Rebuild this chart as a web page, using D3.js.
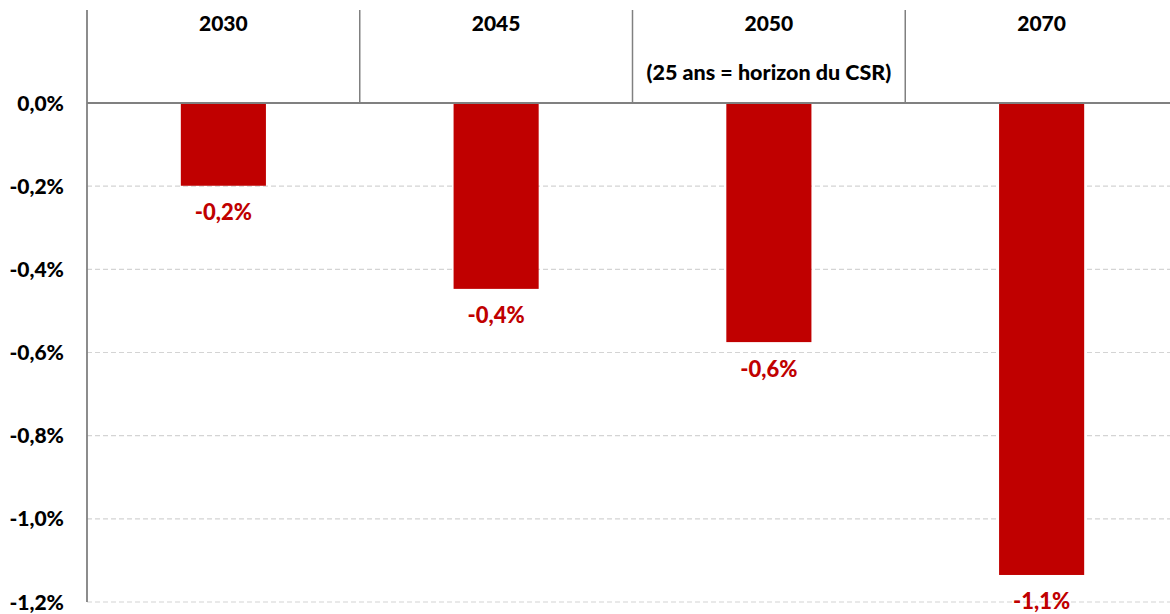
<!DOCTYPE html>
<html><head><meta charset="utf-8">
<script src="https://cdn.jsdelivr.net/npm/d3@7"></script>
<style>body{margin:0;background:#fff}svg{display:block}text{font-family:Lato,"Open Sans",sans-serif;font-weight:900}</style>
</head><body><svg id="c" width="1170" height="614"></svg>
<script>
const categories = ["2030","2045","2050","2070"];
const subtitles = ["","","(25 ans = horizon du CSR)",""];
const values = [-0.199, -0.447, -0.575, -1.135];
const valueLabels = ["-0,2%","-0,4%","-0,6%","-1,1%"];
const yTicks = [0,-0.2,-0.4,-0.6,-0.8,-1.0,-1.2];
const yTickLabels = ["0,0%","-0,2%","-0,4%","-0,6%","-0,8%","-1,0%","-1,2%"];

(function(){
const svg = d3.select("#c");
const mLeft = 87, mRight = 1178, zeroY = 103, mBottom = 602, mTop = 10;
const x = d3.scaleBand().domain(categories).range([mLeft, mRight]).padding(0);
const y = d3.scaleLinear().domain([0,-1.2]).range([zeroY, mBottom]);
const red = "#C00000";

svg.append("g").selectAll("line").data(yTicks.slice(1)).join("line")
  .attr("x1", mLeft).attr("x2", 1170).attr("y1", d=>y(d)).attr("y2", d=>y(d))
  .attr("stroke","#d4d4d4").attr("stroke-width",1.2).attr("stroke-dasharray","5,3");

const bw = x.bandwidth()*0.312;
svg.append("g").selectAll("rect").data(values).join("rect")
  .attr("x",(d,i)=>x(categories[i])+x.bandwidth()/2-bw/2)
  .attr("width",bw)
  .attr("y",y(0)).attr("height",d=>y(d)-y(0))
  .attr("fill",red);

svg.append("g").selectAll("text").data(values).join("text")
  .attr("x",(d,i)=>x(categories[i])+x.bandwidth()/2)
  .attr("y",d=>y(d)+34.5)
  .attr("text-anchor","middle").attr("fill",red).attr("font-size",22)
  .text((d,i)=>valueLabels[i]);

svg.append("g").selectAll("line").data(categories.slice(1)).join("line")
  .attr("x1",d=>x(d)).attr("x2",d=>x(d)).attr("y1",mTop).attr("y2",zeroY)
  .attr("stroke","#808080").attr("stroke-width",1.5);

svg.append("line").attr("x1",mLeft).attr("x2",1170).attr("y1",zeroY).attr("y2",zeroY)
  .attr("stroke","#808080").attr("stroke-width",1.8);
svg.append("line").attr("x1",mLeft).attr("x2",mLeft).attr("y1",mTop).attr("y2",mBottom)
  .attr("stroke","#808080").attr("stroke-width",1.8);

svg.append("g").selectAll("text").data(yTicks).join("text")
  .attr("x",64).attr("y",d=>y(d)+7.5)
  .attr("text-anchor","end").attr("font-size",21).attr("fill","#000")
  .text((d,i)=>yTickLabels[i]);

svg.append("g").selectAll("text").data(categories).join("text")
  .attr("x",d=>x(d)+x.bandwidth()/2).attr("y",31)
  .attr("text-anchor","middle").attr("font-size",21).attr("fill","#000").text(d=>d);
svg.append("g").selectAll("text").data(subtitles).join("text")
  .attr("x",(d,i)=>x(categories[i])+x.bandwidth()/2).attr("y",80)
  .attr("text-anchor","middle").attr("font-size",21.5).attr("fill","#000").text(d=>d);
})();
</script></body></html>
